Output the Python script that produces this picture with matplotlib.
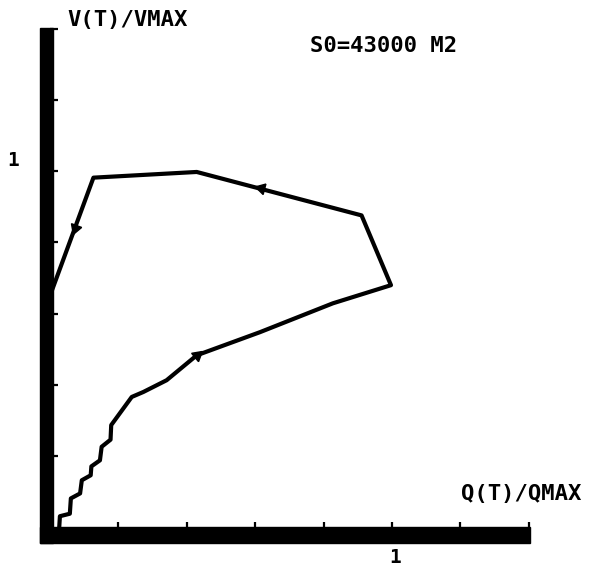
import numpy as np
import matplotlib
matplotlib.use('Agg')
import matplotlib.pyplot as plt
from matplotlib.patches import Rectangle

# courbe Q(T)/QMAX - V(T)/VMAX
q = [0.027, 0.029, 0.058, 0.061, 0.088, 0.093, 0.119, 0.121, 0.146, 0.151,
     0.177, 0.179, 0.239, 0.273, 0.341, 0.429, 0.614, 0.827, 0.997, 0.911,
     0.429, 0.127, 0.006]
v = [0.000, 0.031, 0.038, 0.081, 0.095, 0.132, 0.146, 0.171, 0.188, 0.226,
     0.246, 0.287, 0.366, 0.380, 0.413, 0.483, 0.548, 0.629, 0.680, 0.876,
     0.998, 0.982, 0.666]

# fleches de sens de parcours
mark_q = [0.429, 0.617, 0.073]
mark_v = [0.483, 0.952, 0.840]

ticks = [0.2, 0.4, 0.6, 0.8, 1.0, 1.2, 1.4]

fig = plt.figure(figsize=(5.9, 5.66), dpi=100)
ax = fig.add_axes([50/590, (566-527.25)/566, 478.8/590, 498.4/566])
ax.set_xlim(0, 1.4)
ax.set_ylim(0, 1.4)
for s in ax.spines.values():
    s.set_visible(False)

ax.set_xticks(ticks)
ax.set_yticks(ticks)
ax.set_xticklabels([])
ax.set_yticklabels([])
ax.tick_params(axis='x', direction='in', length=3.8, width=1.6, color='black')
ax.tick_params(axis='y', direction='in', length=5.8, width=1.6, color='black')

ax.plot(q, v, color='black', lw=3, solid_joinstyle='round', solid_capstyle='round', clip_on=False)

# orientation des fleches le long de la courbe
fig.canvas.draw()
pts = ax.transData.transform(np.column_stack([q, v]))
for mq, mv in zip(mark_q, mark_v):
    p = ax.transData.transform((mq, mv))
    best, ang = 1e9, 0
    for i in range(len(pts) - 1):
        a, b = pts[i], pts[i+1]
        d = b - a
        t = np.clip(np.dot(p - a, d) / np.dot(d, d), 0, 1)
        dist = np.linalg.norm(a + t*d - p)
        if dist < best:
            best = dist
            ang = np.degrees(np.arctan2(d[1], d[0]))
    ax.plot([mq], [mv], marker=(3, 0, ang - 90), ms=9, color='black', clip_on=False)

# axes epais
ax.add_patch(Rectangle((-0.03, -0.043), 0.039, 1.445, color='black', zorder=5, clip_on=False))
ax.add_patch(Rectangle((-0.03, -0.043), 1.434, 0.043, color='black', zorder=5, clip_on=False))

fnt = dict(family='DejaVu Sans Mono', fontweight='bold', ha='center', va='center')
ax.text(0.228, 1.426, 'V(T)/VMAX', fontsize=16, **fnt)
ax.text(0.974, 1.353, 'S0=43000 M2', fontsize=16, **fnt)
ax.text(1.377, 0.093, 'Q(T)/QMAX', fontsize=16, **fnt)
ax.text(-0.108, 1.029, '1', fontsize=14, **fnt)
ax.text(1.009, -0.086, '1', fontsize=14, **fnt)

fig.savefig('out.png', dpi=100)
